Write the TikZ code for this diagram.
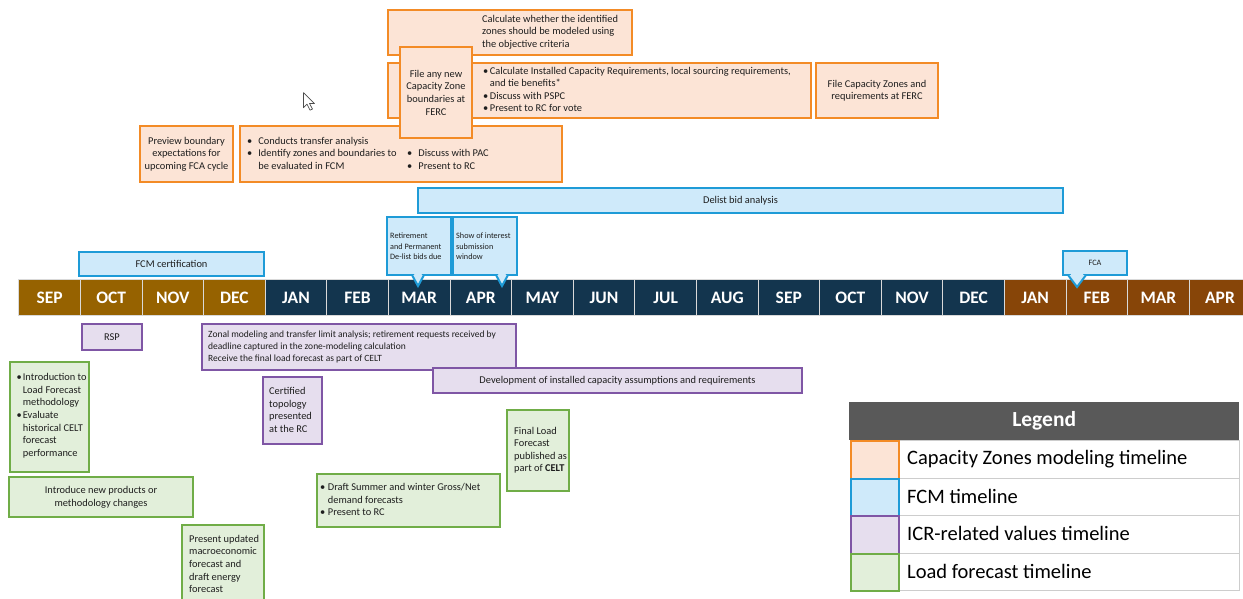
\documentclass[tikz,border=0pt]{standalone}
\usepackage{fontspec}
\setmainfont{Carlito}
\usetikzlibrary{calc}
\definecolor{oB}{RGB}{243,139,38}
\definecolor{oF}{RGB}{252,228,214}
\definecolor{bB}{RGB}{30,155,215}
\definecolor{bF}{RGB}{207,234,250}
\definecolor{pB}{RGB}{127,86,165}
\definecolor{pF}{RGB}{230,222,238}
\definecolor{gB}{RGB}{112,173,71}
\definecolor{gF}{RGB}{226,239,218}
\definecolor{mGold}{RGB}{150,98,0}
\definecolor{mNavy}{RGB}{19,53,78}
\definecolor{mBrown}{RGB}{135,69,8}
\definecolor{lgHead}{RGB}{89,89,89}
\definecolor{lgLine}{RGB}{205,205,205}
\definecolor{txt}{RGB}{30,30,30}
\begin{document}
\begin{tikzpicture}[x=1pt,y=-1pt,
  bx/.style={anchor=north west, line width=2pt, inner sep=0pt, outer sep=0pt, text=txt},
  ob/.style={bx, draw=oB, fill=oF},
  bb/.style={bx, draw=bB, fill=bF},
  pb/.style={bx, draw=pB, fill=pF},
  gb/.style={bx, draw=gB, fill=gF},
  t/.style={inner sep=0pt, anchor=west, align=left, text=txt},
  tt/.style={inner sep=0pt, anchor=west, text=txt},
  f95/.style={font=\fontsize{10.4}{12.5}\selectfont},
  f87/.style={font=\fontsize{9.5}{12}\selectfont},
  f98/.style={font=\fontsize{10.4}{12.6}\selectfont},
  f82/.style={font=\fontsize{8.2}{10.5}\selectfont},
  month/.style={anchor=north west, minimum width=61.6pt, minimum height=36pt, inner sep=0pt,
     draw=white!85!black, line width=1pt, text=white, font=\bfseries\fontsize{17.5}{18}\selectfont},
  ptr/.style={draw=bB, fill=bF, line width=2pt, line join=miter},
  lgsw/.style={anchor=north west, minimum width=48pt, minimum height=37.5pt, inner sep=0pt, line width=2pt},
  lgrow/.style={anchor=north west, minimum width=342pt, minimum height=37.5pt, inner sep=0pt, draw=lgLine, line width=1pt},
  lgt/.style={anchor=west, inner sep=0pt, text=black, font=\fontsize{20.5}{22}\selectfont}
]
\useasboundingbox (0,0) rectangle (1243,598);
\clip (0,0) rectangle (1243,598);

% ---------- Capacity zones (orange) ----------
\node[ob, minimum width=244pt, minimum height=45pt] (o1) at (388,10) {};
\node[t,f95] (o1t) at (482,32) {Calculate whether the identified\\zones should be modeled using\\the objective criteria};
\node[ob, minimum width=423pt, minimum height=55pt] (o2) at (388,63) {};
\node[tt,f95] (o2t) at (483,90.5) {\begin{tabular}{@{}l@{\hspace{1.5pt}}l@{}}\textbullet&Calculate Installed Capacity Requirements, local sourcing requirements,\\&and tie benefits*\\\textbullet&Discuss with PSPC\\\textbullet&Present to RC for vote\end{tabular}};
\node[ob, minimum width=322pt, minimum height=56pt] (o5) at (240,126) {};
\node[tt,f95] (o5a) at (247,154) {\begin{tabular}{@{}l@{\hspace{6pt}}l@{}}\textbullet&Conducts transfer analysis\\\textbullet&Identify zones and boundaries to\\&be evaluated in FCM\end{tabular}};
\node[tt,f95] (o5b) at (407,160.3) {\begin{tabular}{@{}l@{\hspace{6pt}}l@{}}\textbullet&Discuss with PAC\\\textbullet&Present to RC\end{tabular}};
\node[ob, minimum width=93pt, minimum height=56pt, align=center, f95] (o4) at (140,126) {Preview boundary\\expectations for\\upcoming FCA cycle};
\node[ob, minimum width=122pt, minimum height=55pt, align=center, f95] (o6) at (816,63) {File Capacity Zones and\\requirements at FERC};
\node[ob, minimum width=72pt, minimum height=91pt, align=center, font=\fontsize{10.4}{12.7}\selectfont] (o3) at (400,47) {File any new\\Capacity Zone\\boundaries at\\FERC};

% ---------- month strip ----------
\foreach \m [count=\i from 0] in {SEP,OCT,NOV,DEC}
  \node[month, fill=mGold] (m\i) at ({18.3+61.6*\i},279) {\m};
\foreach \m [count=\i from 4] in {JAN,FEB,MAR,APR,MAY,JUN,JUL,AUG,SEP,OCT,NOV,DEC}
  \node[month, fill=mNavy] (m\i) at ({18.3+61.6*\i},279) {\m};
\foreach \m [count=\i from 16] in {JAN,FEB,MAR,APR}
  \node[month, fill=mBrown] (m\i) at ({18.3+61.6*\i},279) {\m};

% ---------- FCM (blue) ----------
\node[bb, minimum width=645pt, minimum height=25pt, f95] (b1) at (418,188) {Delist bid analysis};
\node[bb, minimum width=185pt, minimum height=24pt, f95] (b2) at (79,252) {FCM certification};

\node[bb, minimum width=64pt, minimum height=58pt] (b3) at (387,217) {};
\filldraw[ptr] (412,275) -- (418,286) -- (424,275);
\fill[bF] (413.6,273.2) -- (418,281.6) -- (422.4,273.2) -- cycle;
\node[t,f82] (b3t) at (390,246.5) {Retirement\\and Permanent\\De-list bids due};

\node[bb, minimum width=64pt, minimum height=58pt] (b4) at (453,217) {};
\filldraw[ptr] (496,275) -- (502,286) -- (508,275);
\fill[bF] (497.6,273.2) -- (502,281.6) -- (506.4,273.2) -- cycle;
\node[t,f82] (b4t) at (456,246.5) {Show of interest\\submission\\window};

\node[bb, minimum width=64pt, minimum height=24pt, font=\fontsize{8.2}{10}\selectfont] (b5) at (1063,251) {FCA};
\filldraw[ptr] (1068,275) -- (1077,287) -- (1086,275);
\fill[bF] (1070,273.2) -- (1077,283) -- (1084,273.2) -- cycle;

% ---------- ICR (purple) ----------
\node[pb, minimum width=60pt, minimum height=26pt, f95] (p1) at (82,324) {RSP};
\node[pb, minimum width=314pt, minimum height=46pt] (p2) at (202,324) {};
\node[t,f87] (p2t) at (208,347) {Zonal modeling and transfer limit analysis; retirement requests received by\\deadline captured in the zone-modeling calculation\\Receive the final load forecast as part of CELT};
\node[pb, minimum width=59pt, minimum height=67pt] (p3) at (263,377) {};
\node[t,f98] (p3t) at (269,410) {Certified\\topology\\presented\\at the RC};
\node[pb, minimum width=369pt, minimum height=25pt, f95] (p4) at (433,368) {Development of installed capacity assumptions and requirements};

% ---------- Load forecast (green) ----------
\node[gb, minimum width=79pt, minimum height=110pt] (g1) at (10,362) {};
\node[tt,f98] (g1t) at (16.5,416) {\begin{tabular}{@{}l@{\hspace{1pt}}l@{}}\textbullet&Introduction to\\&Load Forecast\\&methodology\\\textbullet&Evaluate\\&historical CELT\\&forecast\\&performance\end{tabular}};
\node[gb, minimum width=184pt, minimum height=40pt, align=center, f98] (g2) at (9,477) {Introduce new products or\\methodology changes};
\node[gb, minimum width=82pt, minimum height=92pt] (g3) at (182,525) {};
\node[t,f98] (g3t) at (189,564) {Present updated\\macroeconomic\\forecast and\\draft energy\\forecast};
\node[gb, minimum width=183pt, minimum height=53pt] (g4) at (317,474) {};
\node[tt,f95] (g4t) at (320,500.5) {\begin{tabular}{@{}l@{\hspace{2.5pt}}l@{}}\textbullet&Draft Summer and winter Gross/Net\\&demand forecasts\\\textbullet&Present to RC\end{tabular}};
\node[gb, minimum width=62pt, minimum height=81pt] (g5) at (507,410) {};
\node[t,f95] (g5t) at (514,450) {Final Load\\Forecast\\published as\\part of \textbf{CELT}};

% ---------- Legend ----------
\node[lgrow] (r1) at (897,440) {};
\node[lgrow] (r2) at (897,477.5) {};
\node[lgrow] (r3) at (897,515) {};
\node[lgrow] (r4) at (897,552.5) {};
\node[lgsw, draw=oB, fill=oF] (s1) at (850,440) {};
\node[lgsw, draw=bB, fill=bF] (s2) at (850,477.5) {};
\node[lgsw, draw=pB, fill=pF] (s3) at (850,515) {};
\node[lgsw, draw=gB, fill=gF] (s4) at (850,552.5) {};
\node[anchor=north west, minimum width=390pt, minimum height=38pt, inner sep=0pt, fill=lgHead, text=white,
      font=\bfseries\fontsize{21.5}{23}\selectfont] (lh) at (849,402) {Legend};
\node[lgt] (l1) at (907,458.7) {Capacity Zones modeling timeline};
\node[lgt] (l2) at (907,496.2) {FCM timeline};
\node[lgt] (l3) at (907,533.7) {ICR-related values timeline};
\node[lgt] (l4) at (907,571.2) {Load forecast timeline};

% ---------- mouse cursor ----------
\filldraw[fill=white, draw=black!70, line width=0.7pt, line join=round]
  (303.5,92.7) -- ++(0,15) -- ++(3.5,-3.5) -- ++(3,6) -- ++(2.5,-1.2) -- ++(-3,-5.5) -- ++(5,0) -- cycle;
\end{tikzpicture}
\end{document}
